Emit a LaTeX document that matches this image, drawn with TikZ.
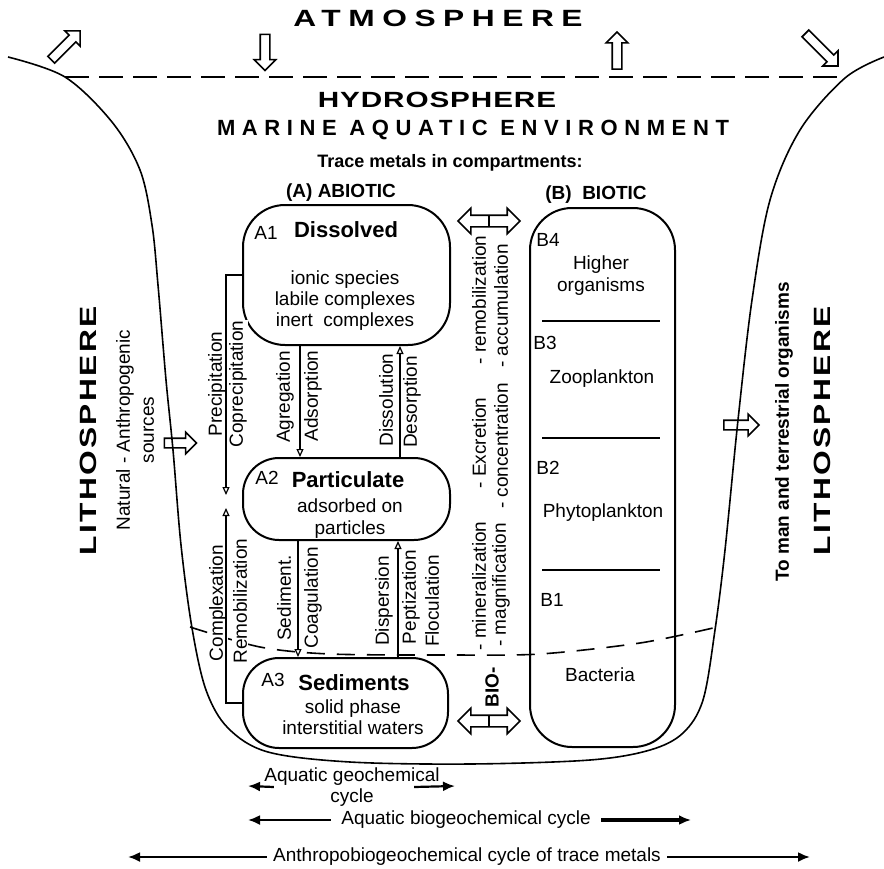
\documentclass[tikz,border=0pt]{standalone}
\usepackage{fontspec}
\setmainfont{Liberation Sans}
\newfontfamily\widefont[FakeStretch=1.35]{Liberation Sans}
\usepackage{tikz}
\usetikzlibrary{arrows.meta, calc, positioning, shapes.arrows}
\newcommand{\spaced}[2]{{\addfontfeature{LetterSpace=#1}#2}}
\tikzset{
  wall/.style      = {draw=black, line width=0.8pt},
  surface/.style   = {draw=black, line width=1.4pt, dash pattern=on 12pt off 5pt},
  seabed/.style    = {draw=black, line width=0.8pt, dash pattern=on 9pt off 6pt},
  compbox/.style   = {draw=black, line width=1pt, inner sep=0pt, rounded corners=18pt},
  txt/.style       = {font=\fontsize{9.5}{10.5}\selectfont, inner sep=1pt, align=center},
  vtxt/.style      = {txt, rotate=90, fill=white, inner sep=0.5pt},
  headtxt/.style   = {font=\fontsize{11}{13}\selectfont\bfseries, inner sep=1pt},
  subhead/.style   = {font=\fontsize{9.5}{11}\selectfont\bfseries, inner sep=1pt},
  title/.style     = {font=\fontsize{11.75}{14}\selectfont\widefont\bfseries, inner sep=0pt},
  flow/.style      = {-{Triangle[open, length=4pt, width=3.5pt]}, line width=0.6pt},
  blockarrow/.style = {single arrow, draw, line width=0.8pt, inner sep=2pt,
                       minimum width=0pt, single arrow head extend=3pt},
  twoway/.style    = {double arrow, draw, line width=0.8pt, inner sep=2.5pt,
                      minimum width=0pt, double arrow head extend=3.5pt, minimum height=31pt},
  cyclearrow/.style = {-{Latex[length=6pt, width=5pt]}, line width=1.1pt},
}

\begin{document}
\begin{tikzpicture}[x=0.5pt, y=0.5pt]
  \useasboundingbox (0,0) rectangle (884,-868);
  % basin
  \draw[wall] plot[smooth, tension=0.55] coordinates {(8,-57) (65,-77) (112,-122) (140,-170)
    (152,-225) (158,-285) (166,-380) (173,-450) (181,-545) (192,-628) (206,-690) (228,-728)
    (268,-752) (350,-762) (470,-764) (590,-760) (650,-750) (683,-733) (703,-700) (715,-630)
    (725,-550) (738,-420) (752,-300) (770,-200) (800,-130) (845,-78) (884,-57)};
  \draw[surface] (65,-77) -- (845,-77);
  \draw[seabed] plot[smooth] coordinates {(190,-627) (260,-647) (330,-654) (450,-655)
    (540,-654) (640,-643) (713,-628)};

  % titles
  \node[title] (atmo) at (438,-18) {\spaced{32}{ATMOSPHERE}};
  \node[title, font=\fontsize{11}{13}\selectfont\widefont\bfseries] (hydro) at (437,-100) {\spaced{4}{HYDROSPHERE}};
  \node[title, font=\fontsize{11}{13}\selectfont\bfseries] (marine) at (473,-130) {\spaced{30}{MARINE AQUATIC ENVIRONMENT}};
  \node[subhead, font=\fontsize{9}{11}\selectfont\bfseries] (trace) at (450,-163) {Trace metals in compartments:};
  \node[subhead] (abiotic) at (341,-193) {(A) ABIOTIC};
  \node[subhead] (biotic) at (596,-195) {(B)~ BIOTIC};

  % exchange with the atmosphere
  \node[blockarrow, minimum height=20.5pt, rotate=45] (outL) at (64,-47) {};
  \node[blockarrow, minimum height=18pt, rotate=-90] (inA) at (265,-50) {};
  \node[blockarrow, minimum height=18.5pt, rotate=90] (outA) at (617,-53) {};
  \node[blockarrow, minimum height=23pt, rotate=-45] (outR) at (820,-48) {};

  % lithosphere
  \node[title, rotate=90] (lithL) at (88,-431) {\spaced{10}{LITHOSPHERE}};
  \node[txt, rotate=90, font=\fontsize{9.5}{12}\selectfont] (natural) at (135,-430) {Natural - Anthropogenic\\sources};
  \node[blockarrow, minimum height=16pt] (inL) at (178,-443) {};
  \node[title, rotate=90] (lithR) at (822,-431) {\spaced{10}{LITHOSPHERE}};
  \node[subhead, rotate=90] (toman) at (784,-432) {To man and terrestrial organisms};
  \node[blockarrow, minimum height=17.5pt] (outRt) at (739,-425) {};

  % abiotic compartments
  \node[compbox, minimum width=103.5pt, minimum height=70pt, rounded corners=21pt] (A1) at (346.5,-275) {};
  \node[compbox, minimum width=103.5pt, minimum height=41pt] (A2) at (346.5,-499) {};
  \node[compbox, minimum width=102.5pt, minimum height=45pt] (A3) at (345.5,-703) {};
  \node[txt] (A1no) at (266,-233) {A1};
  \node[headtxt] (dissolved) at (346,-230) {Dissolved};
  \node[txt] (A1txt) at (345,-301) {ionic species\\labile complexes\\inert~ complexes};
  \node[txt] (A2no) at (267,-478) {A2};
  \node[headtxt] (particulate) at (348,-480) {Particulate};
  \node[txt, font=\fontsize{9.5}{11}\selectfont] (A2txt) at (350,-519) {adsorbed on\\particles};
  \node[txt] (A3no) at (273,-680) {A3};
  \node[headtxt] (sediments) at (354,-683) {Sediments};
  \node[txt] (A3txt) at (353,-717) {solid phase\\interstitial waters};

  % biotic compartment
  \node[compbox, minimum width=72.5pt, minimum height=269.5pt, rounded corners=21pt] (B) at (602.5,-477.5) {};
  \foreach \y in {321,438,570}
    \draw[line width=0.9pt] (542,-\y) -- (660,-\y);
  \node[txt] (B4no) at (548,-240) {B4};
  \node[txt, font=\fontsize{9.5}{11}\selectfont] (higher) at (601,-276) {Higher\\organisms};
  \node[txt] (B3no) at (545,-343) {B3};
  \node[txt] (zoo) at (602,-379) {Zooplankton};
  \node[txt] (B2no) at (548,-468) {B2};
  \node[txt] (phyto) at (603,-513) {Phytoplankton};
  \node[txt] (B1no) at (552,-600) {B1};
  \node[txt] (bact) at (600,-675) {Bacteria};

  % process labels
  \node[vtxt] (prec) at (217,-384) {Precipitation};
  \node[vtxt] (coprec) at (238,-384) {Coprecipitation};
  \node[vtxt] (compl) at (218,-603) {Complexation};
  \node[vtxt] (remob) at (240,-601) {Remobilization};
  \node[vtxt] (agg) at (285,-397) {Agregation};
  \node[vtxt] (ads) at (313,-396) {Adsorption};
  \node[vtxt] (diss) at (386,-400) {Dissolution};
  \node[vtxt] (desorp) at (412,-402) {Desorption};
  \node[vtxt] (sedi) at (284,-598) {Sediment.};
  \node[vtxt] (coag) at (313,-598) {Coagulation};
  \node[vtxt] (disp) at (384,-601) {Dispersion};
  \node[vtxt] (pept) at (411,-597) {Peptization};
  \node[vtxt] (floc) at (432,-601) {Floculation};
  \node[vtxt] (mineral) at (479,-586) {- mineralization};
  \node[vtxt] (excr) at (479,-443) {- Excretion};
  \node[vtxt] (remobz) at (479,-300) {- remobilization};
  \node[vtxt] (magn) at (501,-585) {- magnification};
  \node[vtxt] (conc) at (501,-446) {- concentration};
  \node[vtxt] (accum) at (501,-306) {- accumulation};
  \node[vtxt, font=\fontsize{9.5}{11}\selectfont\bfseries] (bio) at (492,-687) {BIO-};

  % transfers between compartments
  \coordinate (precEnd) at (226,-495);
  \coordinate (remobEnd) at (226,-508);
  \draw[flow] (A1.west) -| (precEnd);
  \draw[flow] (A3.west) -| (remobEnd);
  \coordinate (xagg) at (300,0);
  \coordinate (xdis) at (400,0);
  \coordinate (xsed) at (298,0);
  \coordinate (xpep) at (398,0);
  \draw[flow] (A1.south -| xagg) -- (A2.north -| xagg);
  \draw[flow] (A2.north -| xdis) -- (A1.south -| xdis);
  \draw[flow] (A2.south -| xsed) -- (A3.north -| xsed);
  \draw[flow] (A3.north -| xpep) -- (A2.south -| xpep);
  \node[twoway] (bioUp) at (489,-221) {};
  \node[twoway] (bioDown) at (489,-721) {};
  \draw[line width=0.8pt] ([yshift=-2.5pt]bioUp.center) -- ([yshift=2.5pt]bioUp.center);
  \draw[line width=0.8pt] ([yshift=-2.5pt]bioDown.center) -- ([yshift=2.5pt]bioDown.center);

  % cycles
  \node[txt, font=\fontsize{9.5}{10.5}\selectfont] (geo) at (352,-787) {Aquatic geochemical\\cycle};
  \coordinate (geoL) at (248,-786);
  \coordinate (geoR) at (455,-786);
  \draw[cyclearrow] ([xshift=6pt]geo.west) -- (geoL);
  \draw[cyclearrow] ([xshift=-14pt]geo.east) -- (geoR);
  \node[txt, inner sep=5pt] (biogeo) at (466,-820) {Aquatic biogeochemical cycle};
  \coordinate (bgL) at (248,-820);
  \coordinate (bgR) at (691,-820);
  \draw[cyclearrow] (biogeo.west) -- (bgL);
  \draw[cyclearrow, line width=2pt] (biogeo.east) -- (bgR);
  \node[txt, inner sep=3pt] (anthro) at (467,-857) {Anthropobiogeochemical cycle of trace metals};
  \coordinate (anL) at (128,-857);
  \coordinate (anR) at (810,-857);
  \draw[cyclearrow] (anthro.west) -- (anL);
  \draw[cyclearrow] (anthro.east) -- (anR);
\end{tikzpicture}
\end{document}
